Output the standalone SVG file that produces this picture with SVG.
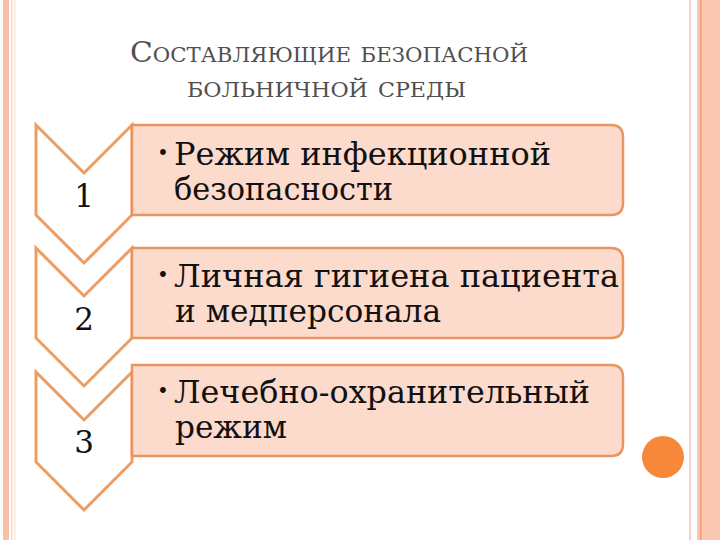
<svg xmlns="http://www.w3.org/2000/svg" width="720" height="540" viewBox="0 0 720 540">
<style>
.chev{fill:#ffffff;stroke:#ee9d62;stroke-width:3;stroke-linejoin:miter}
.box{fill:#fcdacc;stroke:#e9955f;stroke-width:2.5}
.num{font-family:"DejaVu Serif","Liberation Serif",serif;font-size:31px;fill:#111;text-anchor:middle}
.txt{font-family:"DejaVu Serif","Liberation Serif",serif;font-size:32px;fill:#111}
.bul{font-family:"DejaVu Serif","Liberation Serif",serif;font-size:20px;fill:#111}
.title{font-family:"DejaVu Serif","Liberation Serif",serif;font-size:28px;fill:#505050;font-variant:small-caps}
</style>
<rect x="0" y="0" width="720" height="540" fill="#ffffff"/>
<g id="frame">
<rect x="3" y="0" width="6" height="540" fill="#f9c0a8"/>
<rect x="11" y="0" width="1.5" height="540" fill="#f6d8cc"/>
<rect x="14" y="0" width="1.5" height="540" fill="#f6ead8"/>
<rect x="689" y="0" width="2" height="540" fill="#f4d2c4"/>
<rect x="697" y="0" width="23" height="540" fill="#fac7b3"/>
<rect x="700" y="0" width="1.5" height="540" fill="#f29a78"/>
<circle cx="663" cy="457" r="21" fill="#f7883a"/>
</g>
<g id="title">
<text class="title" x="130" y="62" textLength="398" lengthAdjust="spacingAndGlyphs">Составляющие безопасной</text>
<text class="title" x="187" y="97" textLength="279" lengthAdjust="spacingAndGlyphs">больничной среды</text>
</g>
<g id="connectors"></g>
<g id="node1">
<path class="chev" d="M36,125 L84,173 L132,125 L132,215 L84,263 L36,215 Z"/>
<path class="box" d="M132,125 H611 Q623,125 623,137 V203 Q623,215 611,215 H132 Z"/>
<text class="num" x="84" y="207">1</text>
<text class="bul" x="157" y="160">•</text>
<text class="txt" x="174" y="165" textLength="377" lengthAdjust="spacingAndGlyphs">Режим инфекционной</text>
<text class="txt" x="174" y="200" textLength="219" lengthAdjust="spacingAndGlyphs">безопасности</text>
</g>
<g id="node2">
<path class="chev" d="M36,248 L84,296 L132,248 L132,338 L84,386 L36,338 Z"/>
<path class="box" d="M132,248 H611 Q623,248 623,260 V326 Q623,338 611,338 H132 Z"/>
<text class="num" x="84" y="330">2</text>
<text class="bul" x="157" y="282">•</text>
<text class="txt" x="174" y="287" textLength="445" lengthAdjust="spacingAndGlyphs">Личная гигиена пациента</text>
<text class="txt" x="175" y="322" textLength="266" lengthAdjust="spacingAndGlyphs">и медперсонала</text>
</g>
<g id="node3">
<path class="chev" d="M36,372 L84,420 L132,372 L132,462 L84,510 L36,462 Z"/>
<path class="box" d="M132,365 H611 Q623,365 623,377 V444 Q623,456 611,456 H132 Z"/>
<text class="num" x="84" y="453">3</text>
<text class="bul" x="157" y="398">•</text>
<text class="txt" x="174" y="403" textLength="416" lengthAdjust="spacingAndGlyphs">Лечебно-охранительный</text>
<text class="txt" x="175" y="438" textLength="112" lengthAdjust="spacingAndGlyphs">режим</text>
</g>
</svg>
